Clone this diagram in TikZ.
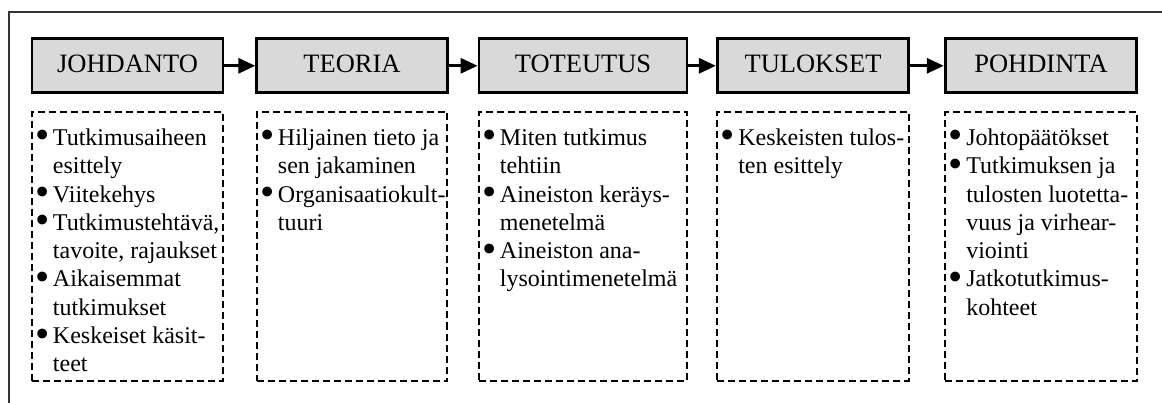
\documentclass[tikz,border=0pt]{standalone}
\usepackage{fontspec}
\usepackage{graphicx}
\setmainfont{Liberation Serif}
\usetikzlibrary{arrows.meta}
\definecolor{headgray}{HTML}{D9D9D9}
\definecolor{framegray}{HTML}{333333}
% bullet marker of a list row
\newcommand\pt{\smash{\raisebox{-3.5pt}{\scalebox{1.7}{\textbullet}}} &}
\begin{document}
\begin{tikzpicture}[x=1pt,y=-1pt,
  head/.style={draw, line width=2.8pt, fill=headgray, minimum height=54pt,
    inner sep=0pt, text height=18pt, text depth=4.2pt,
    font=\fontsize{26.5}{30}\selectfont},
  dbox/.style={draw, line width=2pt, dash pattern=on 7pt off 4pt,
    minimum height=269pt, inner sep=0pt},
  list/.style={anchor=base west, inner sep=0pt,
    font=\fontsize{24}{28.3}\selectfont},
  link/.style={line width=3pt, -{Triangle[length=17pt,width=15pt]}}]
\useasboundingbox (0,0) rectangle (1162,403);

% open frame around the chart
\coordinate (fbl) at (9.3,403);
\coordinate (ftl) at (9.3,12.3);
\coordinate (ftr) at (1162,12.3);
\draw[line width=1.8pt, framegray] (fbl) -- (ftl) -- (ftr);

% chapter headings
\node[head, minimum width=191pt]   (h1) at (127.5,65.8) {JOHDANTO};
\node[head, minimum width=190.5pt] (h2) at (352,65.8)   {TEORIA};
\node[head, minimum width=208pt]   (h3) at (583,65.8)   {TOTEUTUS};
\node[head, minimum width=191.4pt] (h4) at (813,65.8)   {TULOKSET};
\node[head, minimum width=191.7pt] (h5) at (1041,65.8)  {POHDINTA};

\draw[link] (h1) -- (h2);
\draw[link] (h2) -- (h3);
\draw[link] (h3) -- (h4);
\draw[link] (h4) -- (h5);

% content boxes
\node[dbox, minimum width=191pt]   (d1) at (127.5,246.5) {};
\node[dbox, minimum width=190.5pt] (d2) at (352,246.5)   {};
\node[dbox, minimum width=208pt]   (d3) at (583,246.5)   {};
\node[dbox, minimum width=191.4pt] (d4) at (813,246.5)   {};
\node[dbox, minimum width=191.7pt] (d5) at (1041,246.5)  {};

% contents
\node[list] (l1) at (35,145.5) {\begin{tabular}[t]{@{}l@{\hspace{3.5pt}}l@{}}
\pt Tutkimusaiheen\\ & esittely\\
\pt Viitekehys\\
\pt Tutkimustehtävä,\\ & tavoite, rajaukset\\
\pt Aikaisemmat\\ & tutkimukset\\
\pt Keskeiset käsit-\\ & teet
\end{tabular}};
\node[list] (l2) at (260,145.5) {\begin{tabular}[t]{@{}l@{\hspace{3.5pt}}l@{}}
\pt Hiljainen tieto ja\\ & sen jakaminen\\
\pt Organisaatiokult-\\ & tuuri
\end{tabular}};
\node[list] (l3) at (482,145.5) {\begin{tabular}[t]{@{}l@{\hspace{3.5pt}}l@{}}
\pt Miten tutkimus\\ & tehtiin\\
\pt Aineiston keräys-\\ & menetelmä\\
\pt Aineiston ana-\\ & lysointimenetelmä
\end{tabular}};
\node[list] (l4) at (720.3,145.5) {\begin{tabular}[t]{@{}l@{\hspace{3.5pt}}l@{}}
\pt Keskeisten tulos-\\ & ten esittely
\end{tabular}};
\node[list] (l5) at (948.3,145.5) {\begin{tabular}[t]{@{}l@{\hspace{3.5pt}}l@{}}
\pt Johtopäätökset\\
\pt Tutkimuksen ja\\ & tulosten luotetta-\\ & vuus ja virhear-\\ & viointi\\
\pt Jatkotutkimus-\\ & kohteet
\end{tabular}};
\end{tikzpicture}
\end{document}
